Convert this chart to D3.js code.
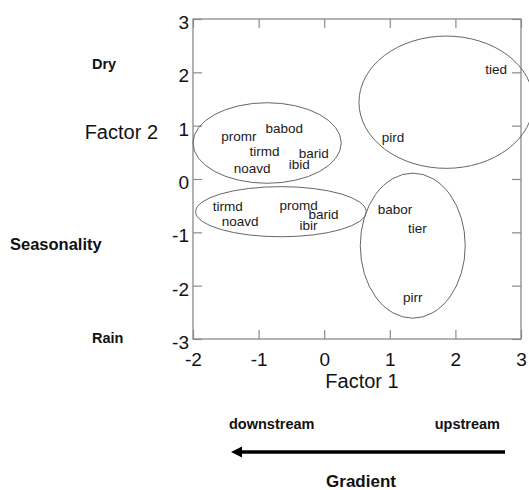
<!DOCTYPE html>
<html><head><meta charset="utf-8">
<script src="https://cdn.jsdelivr.net/npm/d3@7"></script>
<style>body{margin:0;background:#fff}svg{display:block}text{font-family:"Liberation Sans",Arial,sans-serif}</style>
</head><body>
<script>
// Data
const labels = ["promr","babod","tirmd","barid","noavd","ibid","pird","tied","tirmd","noavd","promd","barid","ibir","babor","tier","pirr"];
const xVals  = [-1.30,-0.61,-0.91,-0.16,-1.10,-0.38,1.05,2.62,-1.47,-1.28,-0.39,-0.01,-0.24,1.08,1.42,1.35];
const yVals  = [0.80,0.95,0.52,0.48,0.20,0.27,0.79,2.05,-0.52,-0.80,-0.50,-0.67,-0.87,-0.57,-0.93,-2.22];
const ellCx = [-0.87, 1.86, -0.66, 1.35];
const ellCy = [0.675, 1.44, -0.613, -1.25];
const ellRx = [1.13, 1.33, 1.30, 0.80];
const ellRy = [0.755, 1.24, 0.47, 1.36];
const xTicks = [-2,-1,0,1,2,3];
const yTicks = [-3,-2,-1,0,1,2,3];
const tickLabel = d => String(d);

const W=529,H=490;
const L=193,T=19,PW=328,PH=320;
const svg=d3.select("body").append("svg").attr("width",W).attr("height",H);
const x=d3.scaleLinear().domain([-2,3]).range([L,L+PW]);
const y=d3.scaleLinear().domain([-3,3]).range([T+PH,T]);
const axisCol="#8a8a8a";
const tl=9;

// axes with inward ticks
const gB=svg.append("g").attr("transform",`translate(0,${T+PH})`)
  .call(d3.axisBottom(x).tickValues(xTicks).tickSize(-tl).tickPadding(tl+5).tickFormat(tickLabel));
const gT=svg.append("g").attr("transform",`translate(0,${T})`)
  .call(d3.axisTop(x).tickValues(xTicks).tickSize(-tl).tickFormat(""));
const gL=svg.append("g").attr("transform",`translate(${L},0)`)
  .call(d3.axisLeft(y).tickValues(yTicks).tickSize(-tl).tickFormat(tickLabel));
const gR=svg.append("g").attr("transform",`translate(${L+PW},0)`)
  .call(d3.axisRight(y).tickValues(yTicks).tickSize(-tl).tickFormat(""));
[gB,gT,gL,gR].forEach(g=>{
  g.select(".domain").remove();
  g.selectAll("line").attr("stroke",axisCol).attr("stroke-width",1.2);
  g.selectAll("text").attr("fill","#111").style("font-size","19px").style("font-family","Liberation Sans, Arial");
});
gL.selectAll("text").attr("x",-4).attr("dy","0.5em");
svg.append("rect").attr("x",L).attr("y",T).attr("width",PW).attr("height",PH)
  .attr("fill","none").attr("stroke",axisCol).attr("stroke-width",1.3);

// ellipses
svg.append("g").selectAll("ellipse").data(ellCx).join("ellipse")
  .attr("cx",(d,i)=>x(d)).attr("cy",(d,i)=>y(ellCy[i]))
  .attr("rx",(d,i)=>x(ellRx[i])-x(0)).attr("ry",(d,i)=>y(0)-y(ellRy[i]))
  .attr("fill","none").attr("stroke","#666").attr("stroke-width",1);

// point labels
svg.append("g").selectAll("text").data(labels).join("text")
  .attr("x",(d,i)=>x(xVals[i])).attr("y",(d,i)=>y(yVals[i]))
  .attr("text-anchor","middle").attr("dy","0.35em")
  .attr("fill","#1a1a1a").style("font-size","13.5px").text(d=>d);

// axis titles
svg.append("text").attr("x",L+PW/2+5).attr("y",388).attr("text-anchor","middle")
  .style("font-size","20px").attr("fill","#111").text("Factor 1");
svg.append("text").attr("x",158).attr("y",139).attr("text-anchor","end")
  .style("font-size","20px").attr("fill","#111").text("Factor 2");

// annotations
const bold=(t,xx,yy,fs,anchor)=>svg.append("text").attr("x",xx).attr("y",yy)
  .attr("text-anchor",anchor||"start").style("font-size",fs+"px").style("font-weight","bold").attr("fill","#111").text(t);
bold("Dry",92,69,14.5);
bold("Seasonality",10,250,16.5);
bold("Rain",92,343,14.5);
bold("downstream",229,429,14.5);
bold("upstream",500,429,14.5,"end");
bold("Gradient",361,487,17,"middle");

// arrow
svg.append("line").attr("x1",505).attr("y1",452).attr("x2",240).attr("y2",452)
  .attr("stroke","#000").attr("stroke-width",3.5);
svg.append("path").attr("d","M231,452 L242,446.5 L242,457.5 Z").attr("fill","#000");
</script>
</body></html>
